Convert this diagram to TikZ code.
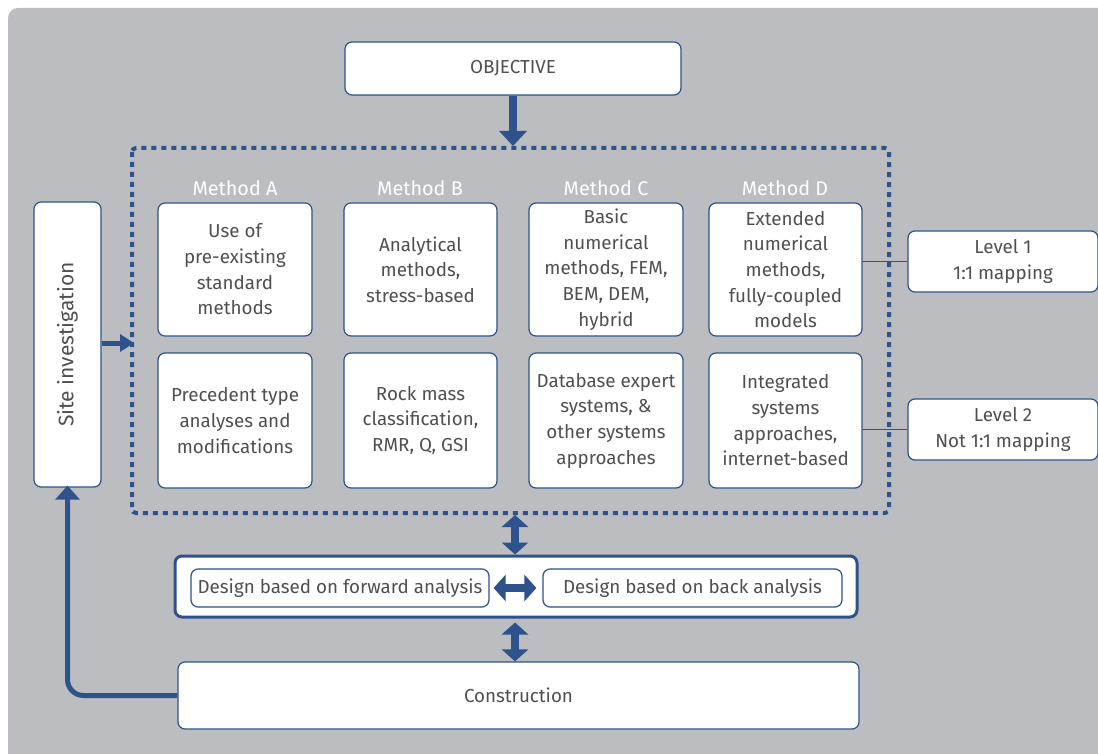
\documentclass[tikz,border=0pt]{standalone}
\usepackage{fontspec}
\setmainfont{Fira Sans}
\usetikzlibrary{arrows.meta}
\definecolor{bgray}{RGB}{188,189,193}
\definecolor{dblue}{RGB}{45,82,140}
\definecolor{tgray}{RGB}{80,80,84}
\tikzset{
  box/.style={draw=dblue, line width=1.2pt, fill=white, rounded corners=7pt, inner sep=0pt, align=center, text=tgray, font=\fontsize{18.8}{25.7}\selectfont},
  mlabel/.style={text=white, font=\fontsize{19.8}{22}\selectfont, inner sep=0pt},
  fatarrow/.style={draw=dblue, line width=8pt, -{Triangle[width=27pt,length=15pt]}},
  dblarrow/.style={draw=dblue, line width=8pt, {Triangle[width=26pt,length=12pt]}-{Triangle[width=26pt,length=12pt]}},
  conn/.style={draw=dblue, line width=1.8pt}
}
\begin{document}
\begin{tikzpicture}[x=1pt,y=-1pt]
\useasboundingbox (0,0) rectangle (1098,754);
\fill[bgray, rounded corners=10pt] (8,8) rectangle (1110,770);
% objective
\node[box, minimum width=336pt, minimum height=53pt] (obj) at (513,68.5) {OBJECTIVE};
% dotted frame
\draw[dblue, line width=4pt, dash pattern=on 5pt off 5pt, rounded corners=4pt] (132,148) rectangle (889,513);
\coordinate (frametop) at (513,146);
\coordinate (frameleft) at (134,343);
\coordinate (framebot) at (515,515);
\draw[fatarrow] (obj.south) -- (frametop);
% method labels
\node[mlabel] (lA) at (235,188) {Method A};
\node[mlabel] (lB) at (420,188) {Method B};
\node[mlabel] (lC) at (606,188) {Method C};
\node[mlabel] (lD) at (785,188) {Method D};
% row 1
\node[box, minimum width=154pt, minimum height=133pt] (A1) at (235,269.5) {Use of\\pre-existing\\standard\\methods};
\node[box, minimum width=153pt, minimum height=133pt] (B1) at (420.5,269.5) {Analytical\\methods,\\stress-based};
\node[box, minimum width=154pt, minimum height=133pt] (C1) at (606,269.5) {Basic\\numerical\\methods, FEM,\\BEM, DEM,\\hybrid};
\node[box, minimum width=153pt, minimum height=133pt] (D1) at (785.5,269.5) {Extended\\numerical\\methods,\\fully-coupled\\models};
% row 2
\node[box, minimum width=154pt, minimum height=135pt] (A2) at (235,420.5) {Precedent type\\analyses and\\modifications};
\node[box, minimum width=153pt, minimum height=135pt] (B2) at (420.5,420.5) {Rock mass\\classification,\\RMR, Q, GSI};
\node[box, minimum width=154pt, minimum height=135pt] (C2) at (606,420.5) {Database expert\\systems, \&\\other systems\\approaches};
\node[box, minimum width=153pt, minimum height=135pt] (D2) at (785.5,420.5) {Integrated\\systems\\approaches,\\internet-based};
% site investigation
\node[box, minimum width=67pt, minimum height=285pt] (site) at (67.5,344.5) {};
\node[text=tgray, font=\fontsize{21}{24}\selectfont, rotate=90] (sitet) at (site.center) {Site investigation};
\draw[draw=dblue, line width=5pt, -{Triangle[width=17pt,length=14pt]}] (site.east |- frameleft) -- (frameleft);
% levels
\node[box, minimum width=190pt, minimum height=61pt] (L1) at (1003,261.5) {Level 1\\1:1 mapping};
\node[box, minimum width=190pt, minimum height=61pt] (L2) at (1003,429.5) {Level 2\\Not 1:1 mapping};
\draw[conn] (D1.east |- L1.west) -- (L1.west);
\draw[conn] (D2.east |- L2.west) -- (L2.west);
% design
\node[box, line width=3pt, minimum width=682pt, minimum height=61pt] (design) at (516,586.5) {};
\node[box, minimum width=298pt, minimum height=38pt] (fwd) at (340,588) {Design based on forward analysis};
\node[box, minimum width=299pt, minimum height=38pt] (back) at (692.5,588) {Design based on back analysis};
\draw[dblarrow] (framebot) -- (design.north -| framebot);
\draw[dblarrow] ([xshift=4pt]fwd.east) -- ([xshift=-6pt]back.west);
% construction
\node[box, minimum width=681pt, minimum height=67pt] (cons) at (518.5,695.5) {Construction};
\draw[dblarrow] (design.south -| framebot) ++(0,4) -- (cons.north -| framebot) ;
\draw[draw=dblue, line width=5pt, rounded corners=16pt, -{Triangle[width=24pt,length=14pt]}] (cons.west) -| ([yshift=2pt]site.south);
\end{tikzpicture}
\end{document}
